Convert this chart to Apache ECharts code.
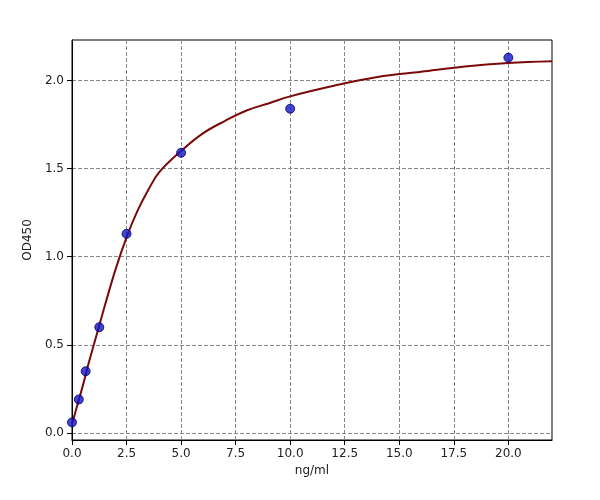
<!DOCTYPE html><html><head><meta charset="utf-8"><script src="https://cdn.jsdelivr.net/npm/echarts@6/dist/echarts.min.js"></script></head><body style="margin:0;background:#fff"><div id="c" style="width:600px;height:500px"></div><script>
const pointX=[0,0.3125,0.625,1.25,2.5,5,10,20];
const pointY=[0.06,0.19,0.35,0.60,1.13,1.59,1.84,2.13];
const curveX=[0,0.25,0.5,0.75,1,1.5,2,2.5,3,3.5,4,5,6,7,8,9,10,12,14,16,18,20,22];
const curveY=[0.05,0.16,0.27,0.39,0.50,0.72,0.93,1.11,1.26,1.38,1.48,1.60,1.70,1.77,1.83,1.87,1.91,1.97,2.02,2.05,2.08,2.10,2.11];
const xTicks=[0,2.5,5,7.5,10,12.5,15,17.5,20];
const yTicks=[0,0.5,1,1.5,2];
const f="DejaVu Sans";
const ax={axisLine:{show:true,onZero:false,lineStyle:{color:'#000'}},axisTick:{show:true,lineStyle:{color:'#000'}},
 axisLabel:{color:'#222',fontFamily:f,fontSize:12,formatter:v=>v.toFixed(1)},
 splitLine:{show:true,lineStyle:{type:'dashed',color:'#888'}},nameLocation:'middle',nameTextStyle:{color:'#222',fontFamily:f,fontSize:12}};
const ch=echarts.init(document.getElementById('c'));
ch.setOption({animation:false,grid:{left:72,right:48,top:40,bottom:60,show:true,borderColor:'#000',borderWidth:1},
xAxis:Object.assign({},ax,{type:'value',min:0,max:22,name:'ng/ml',nameGap:22,
 axisTick:Object.assign({},ax.axisTick,{customValues:xTicks}),axisLabel:Object.assign({},ax.axisLabel,{customValues:xTicks})}),
yAxis:Object.assign({},ax,{type:'value',min:-0.04,max:2.23,name:'OD450',nameGap:38,
 axisTick:Object.assign({},ax.axisTick,{customValues:yTicks}),axisLabel:Object.assign({},ax.axisLabel,{customValues:yTicks})}),
series:[{type:'line',smooth:0.4,showSymbol:false,data:curveX.map((x,i)=>[x,curveY[i]]),lineStyle:{color:'#7a0a0a',width:2},z:2},
{type:'scatter',data:pointX.map((x,i)=>[x,pointY[i]]),symbolSize:9,itemStyle:{color:'#1515c8',borderColor:'#000060',borderWidth:1},z:3}]});
</script></body></html>
